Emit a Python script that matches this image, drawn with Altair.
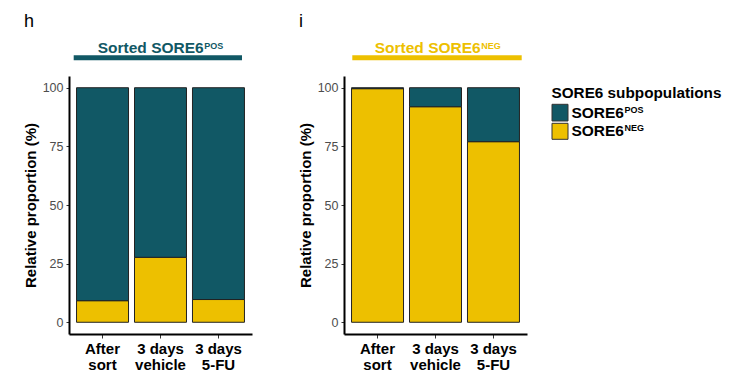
import altair as alt
import pandas as pd

# ---- data ----
conditions = ["After sort", "3 days vehicle", "3 days 5-FU"]
populations = ["SORE6POS", "SORE6NEG"]
pop_base = ["SORE6", "SORE6"]
pop_sup = ["POS", "NEG"]
neg_sorted_pos = [9.2, 27.7, 9.7]      # panel h, SORE6NEG share
pos_sorted_pos = [90.8, 72.3, 90.3]    # panel h, SORE6POS share
neg_sorted_neg = [99.6, 91.9, 77.0]    # panel i, SORE6NEG share
pos_sorted_neg = [0.4, 8.1, 23.0]      # panel i, SORE6POS share
y_ticks = [0, 25, 50, 75, 100]
panel_letters = ["h", "i"]
panel_titles = ["Sorted SORE6", "Sorted SORE6"]
panel_title_sups = ["POS", "NEG"]
legend_title = "SORE6 subpopulations"

TEAL = "#115865"
GOLD = "#EDC000"
FONT = "Liberation Sans"
color_scale = alt.Scale(domain=populations, range=[TEAL, GOLD])

W, H = 183, 258


def make_df(neg, pos):
    rows = []
    for c, n, p in zip(conditions, neg, pos):
        rows.append({"cond": c, "pop": "SORE6NEG", "value": n, "ord": 0})
        rows.append({"cond": c, "pop": "SORE6POS", "value": p, "ord": 1})
    return pd.DataFrame(rows)


label_expr = ("[substring(datum.label, 0, lastindexof(datum.label, ' ')), "
              "substring(datum.label, lastindexof(datum.label, ' ') + 1)]")


def panel(df, letter, tmain, tsup, tcolor, x0, line_x, legend=False):
    bars = alt.Chart(df).mark_bar(stroke="#222222", strokeWidth=1).encode(
        x=alt.X("cond:N", sort=conditions,
                scale=alt.Scale(paddingInner=0.1034, paddingOuter=0.13),
                axis=alt.Axis(title=None, labelAngle=0, labelExpr=label_expr, grid=False,
                              labelFont=FONT, labelFontSize=15, labelFontWeight="bold",
                              labelColor="black", labelLineHeight=16.5, labelPadding=3,
                              domainColor="black", domainWidth=2, tickColor="#333333",
                              tickSize=4, tickWidth=1)),
        y=alt.Y("value:Q", stack="zero",
                scale=alt.Scale(domain=[-5, 105], nice=False, zero=False),
                axis=alt.Axis(values=y_ticks, title="Relative proportion (%)", grid=False,
                              titleFont=FONT, titleFontSize=15, titleFontWeight="bold",
                              titleColor="black", titlePadding=4,
                              labelFont=FONT, labelFontSize=12.5, labelColor="#4d4d4d",
                              labelPadding=3,
                              domainColor="black", domainWidth=2, tickColor="#333333",
                              tickSize=3, tickWidth=1)),
        color=alt.Color("pop:N", scale=color_scale, legend=None),
        order=alt.Order("ord:Q"),
    )

    ann = pd.DataFrame({"letter": [letter], "main": [tmain], "sup": [tsup]})
    letter_t = alt.Chart(ann).mark_text(align="left", baseline="alphabetic", font=FONT,
                                        fontSize=18, color="black").encode(
        text="letter:N", x=alt.value(-45), y=alt.value(-49))
    main_t = alt.Chart(ann).mark_text(align="right", baseline="alphabetic", font=FONT,
                                      fontSize=15.5, fontWeight="bold", color=tcolor).encode(
        text="main:N", x=alt.value(x0), y=alt.value(-22.7))
    sup_t = alt.Chart(ann).mark_text(align="left", baseline="alphabetic", font=FONT,
                                     fontSize=9, fontWeight="bold", color=tcolor).encode(
        text="sup:N", x=alt.value(x0 + 0.5), y=alt.value(-27))
    uline = alt.Chart(ann).mark_rule(strokeWidth=5, color=tcolor).encode(
        x=alt.value(line_x[0]), x2=alt.value(line_x[1]), y=alt.value(-18.2))

    layers = [bars, uline, letter_t, main_t, sup_t]

    if legend:
        lx = 208
        leg = pd.DataFrame({"pop": populations, "base": pop_base, "sup": pop_sup})
        title_df = pd.DataFrame({"t": [legend_title]})
        layers.append(alt.Chart(title_df).mark_text(
            align="left", baseline="alphabetic", font=FONT, fontSize=15.3,
            fontWeight="bold", color="black").encode(
            text="t:N", x=alt.value(lx - 0.5), y=alt.value(21.7)))
        ys = [(28.3, 45.0), (47.3, 63.3)]
        for i, p in enumerate(populations):
            sub = alt.Chart(leg).transform_filter(alt.datum.pop == p)
            layers.append(sub.mark_rect(stroke="#333333", strokeWidth=1).encode(
                x=alt.value(lx), x2=alt.value(lx + 16),
                y=alt.value(ys[i][0]), y2=alt.value(ys[i][1]),
                color=alt.Color("pop:N", scale=color_scale, legend=None)))
            base_y = ys[i][1] - 3.3
            layers.append(sub.mark_text(
                align="right", baseline="alphabetic", font=FONT, fontSize=15.5,
                fontWeight="bold", color="black").encode(
                text="base:N", x=alt.value(lx + 72), y=alt.value(base_y)))
            layers.append(sub.mark_text(
                align="left", baseline="alphabetic", font=FONT, fontSize=9,
                fontWeight="bold", color="black").encode(
                text="sup:N", x=alt.value(lx + 72.5), y=alt.value(base_y - 5)))

    return alt.layer(*layers).properties(width=W, height=H)


left = panel(make_df(neg_sorted_pos, pos_sorted_pos), panel_letters[0],
             panel_titles[0], panel_title_sups[0], TEAL, 134.7, (4.7, 173))
right = panel(make_df(neg_sorted_neg, pos_sorted_neg), panel_letters[1],
              panel_titles[1], panel_title_sups[1], GOLD, 136.7, (8.3, 177.7), legend=True)

chart = alt.hconcat(left, right, spacing=46).properties(
    padding={"left": 15, "top": 5, "right": 5, "bottom": 5}
).configure(font=FONT).configure_view(stroke=None).configure_axis(grid=False)

chart.save("out.html", embed_options={"renderer": "svg", "actions": False})
